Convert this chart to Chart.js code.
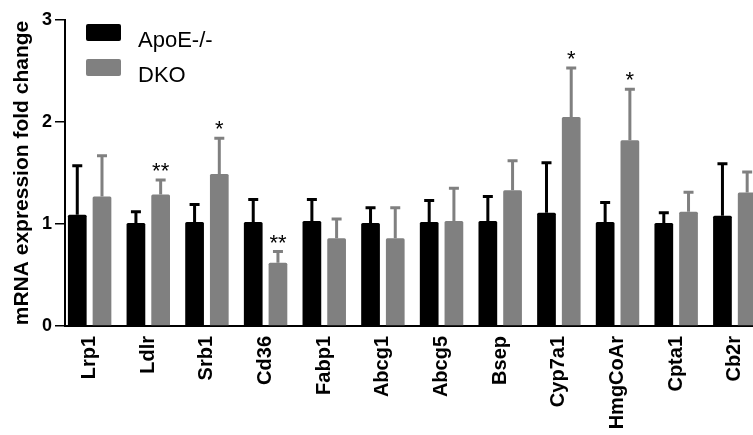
<!DOCTYPE html>
<html>
<head>
<meta charset="utf-8">
<script src="https://cdn.jsdelivr.net/npm/chart.js@4.4.1/dist/chart.umd.min.js"></script>
<style>
  html, body { margin: 0; padding: 0; background: #fff; overflow: hidden; }
  #wrap { width: 753px; height: 435px; position: relative; }
</style>
</head>
<body>
<div id="wrap"><canvas id="geneChart"></canvas></div>
<script>
// genes on the x axis
const genes = ["Lrp1", "Ldlr", "Srb1", "Cd36", "Fabp1", "Abcg1", "Abcg5", "Bsep", "Cyp7a1", "HmgCoAr", "Cpta1", "Cb2r"];

// mean fold change + upper error
const apoeMean = [1.09, 1.01, 1.02, 1.02, 1.03, 1.01, 1.02, 1.03, 1.11, 1.02, 1.01, 1.08];
const apoeErr = [0.49, 0.12, 0.18, 0.23, 0.22, 0.16, 0.22, 0.25, 0.50, 0.20, 0.11, 0.52];
const dkoMean = [1.27, 1.29, 1.49, 0.62, 0.86, 0.86, 1.03, 1.33, 2.05, 1.82, 1.12, 1.31];
const dkoErr = [0.41, 0.15, 0.36, 0.12, 0.20, 0.31, 0.33, 0.30, 0.49, 0.51, 0.20, 0.21];

// significance marks over the DKO bars
const dkoStars = ["", "**", "*", "**", "", "", "", "", "*", "*", "", ""];

const yTicks = [0, 1, 2, 3];

const BLACK = "#000000";
const GREY = "#808080";
const FONT = "'Liberation Sans', Arial, Helvetica, sans-serif";

Chart.defaults.font.family = FONT;
Chart.defaults.color = "#000";

// upper error bars + stars, drawn from the bar elements
const errorBars = {
  id: "errorBars",
  afterDatasetsDraw(chart) {
    const c = chart.ctx;
    const yScale = chart.scales.y;
    const area = chart.chartArea;
    c.save();
    c.beginPath();
    c.rect(area.left, 0, area.right - area.left, area.bottom);
    c.clip();
    chart.data.datasets.forEach((ds, di) => {
      const meta = chart.getDatasetMeta(di);
      meta.data.forEach((bar, i) => {
        const top = yScale.getPixelForValue(ds.data[i].y + ds.errors[i]);
        c.strokeStyle = ds.backgroundColor;
        c.lineWidth = 3;
        c.lineCap = "butt";
        c.beginPath();
        c.moveTo(bar.x, bar.y);
        c.lineTo(bar.x, top);
        c.moveTo(bar.x - 5, top + 1);
        c.lineTo(bar.x + 5, top + 1);
        c.stroke();
        if (ds.stars && ds.stars[i]) {
          c.fillStyle = "#000";
          c.font = "22px " + FONT;
          c.textAlign = "center";
          c.textBaseline = "alphabetic";
          c.fillText(ds.stars[i], bar.x, top - 1);
        }
      });
    });
    c.restore();
  }
};

// legend in the upper left corner of the plot
const boxLegend = {
  id: "boxLegend",
  afterDraw(chart) {
    const c = chart.ctx;
    c.save();
    chart.data.datasets.forEach((ds, i) => {
      const y0 = 24 + i * 35;
      c.fillStyle = ds.backgroundColor;
      c.beginPath();
      c.roundRect(86, y0, 35, 17, 2);
      c.fill();
      c.fillStyle = "#000";
      c.font = "22px " + FONT;
      c.textAlign = "left";
      c.textBaseline = "alphabetic";
      c.fillText(ds.label, 138, y0 + 23);
    });
    c.restore();
  }
};

const ctx = document.getElementById("geneChart");

const data = {
  datasets: [
    {
      label: "ApoE-/-",
      backgroundColor: BLACK,
      data: genes.map((g, i) => ({ x: i, y: apoeMean[i] })),
      errors: apoeErr
    },
    {
      label: "DKO",
      backgroundColor: GREY,
      data: genes.map((g, i) => ({ x: i, y: dkoMean[i] })),
      errors: dkoErr,
      stars: dkoStars
    }
  ]
};

const config = {
  type: "bar",
  data: data,
  options: {
    responsive: true,
    maintainAspectRatio: false,
    animation: false,
    events: [],
    categoryPercentage: 0.843,
    barPercentage: 0.757,
    borderRadius: 1.5,
    layout: { padding: { top: 20, right: 0, left: 0, bottom: 0 } },
    plugins: {
      legend: { display: false },
      tooltip: { enabled: false }
    },
    scales: {
      x: {
        type: "linear",
        offset: false,
        min: -0.42,
        max: 11.31,
        afterBuildTicks: (s) => { s.ticks = genes.map((g, i) => ({ value: i })); },
        // plot runs off the right edge like the original crop
        afterFit: (s) => { s.height = 109; s.paddingRight = 0; s.paddingLeft = 0; },
        grid: { display: false, drawTicks: false, offset: false },
        border: { display: true, color: "#000", width: 2 },
        ticks: {
          autoSkip: false,
          maxRotation: 90,
          minRotation: 90,
          padding: 10,
          color: "#000",
          font: { size: 20, weight: 700 },
          callback: (v) => genes[v]
        }
      },
      y: {
        min: 0,
        max: 3,
        afterBuildTicks: (s) => { s.ticks = yTicks.map((v) => ({ value: v })); },
        afterFit: (s) => { s.width = 65; },
        grid: { drawOnChartArea: false, drawTicks: true, tickLength: 10, color: "#000", lineWidth: 1.5 },
        border: { display: true, color: "#000", width: 2 },
        ticks: {
          padding: 3,
          color: "#000",
          font: { size: 18, weight: 700 }
        },
        title: {
          display: true,
          text: "mRNA expression fold change",
          color: "#000",
          font: { size: 21, weight: 700 },
          padding: { top: 10, bottom: 0 }
        }
      }
    }
  },
  plugins: [errorBars, boxLegend]
};

const geneChart = new Chart(ctx, config);
</script>
</body>
</html>
